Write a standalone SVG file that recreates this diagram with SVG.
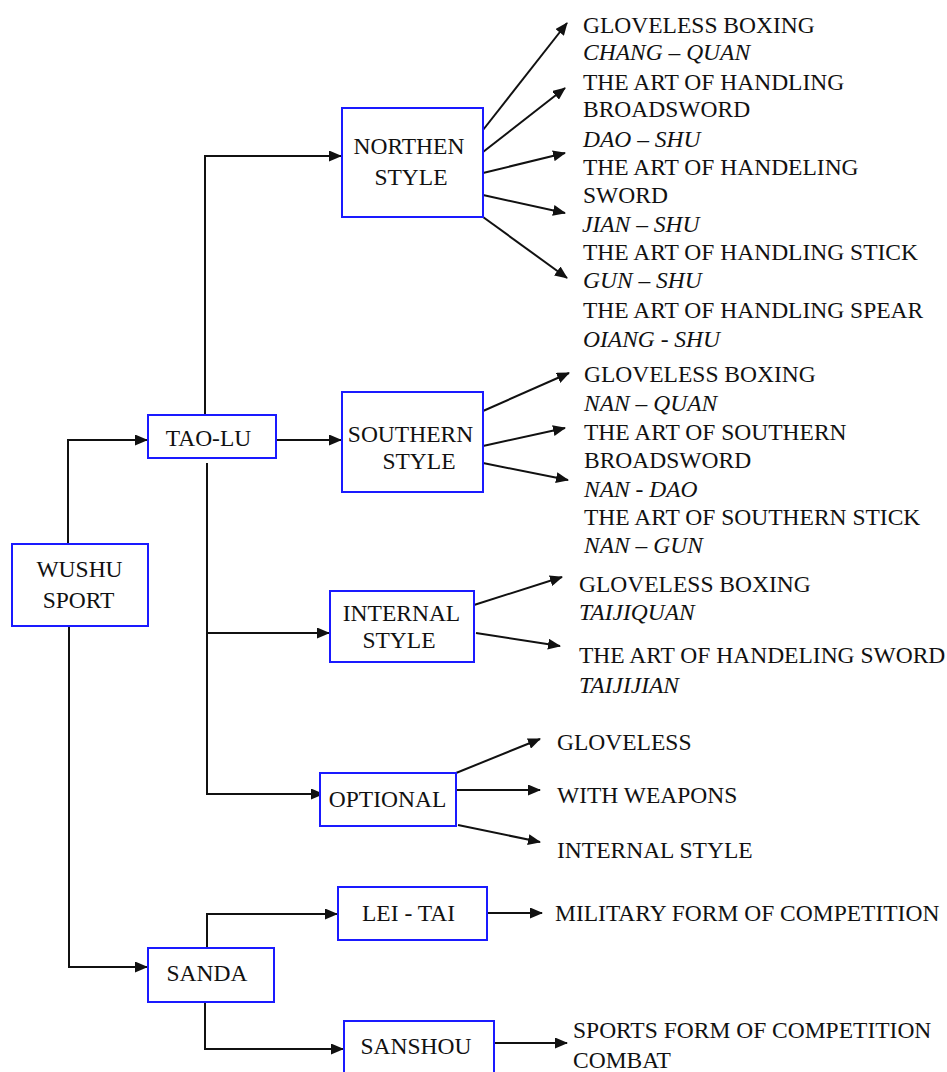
<svg xmlns="http://www.w3.org/2000/svg" width="947" height="1072" viewBox="0 0 947 1072">
<style>
.box{fill:#fff;stroke:#1a1aff;stroke-width:2}
.t{font-family:'Liberation Serif',serif;font-size:23.5px;fill:#111}
.m{text-anchor:middle}
.i{font-style:italic}
.c{fill:none;stroke:#111;stroke-width:2}
</style>
<defs>
<marker id="ah" markerUnits="userSpaceOnUse" markerWidth="13" markerHeight="11" refX="12" refY="5.5" orient="auto">
<path d="M0,0 L13,5.5 L0,11 z" fill="#111"/>
</marker>
</defs>
<rect width="947" height="1072" fill="#fff"/>
<g id="connectors" class="c" marker-end="url(#ah)">
<path d="M68,544 V440 H147"/>
<path d="M69,626 V967 H147"/>
<path d="M205,415 V156 H341"/>
<path d="M276,440 H341"/>
<path d="M207,463 V794 H323"/>
<path d="M207,633 H329"/>
<path d="M207,948 V914 H337"/>
<path d="M205,1002 V1049 H343"/>
<path d="M483,130 L567,23"/>
<path d="M483,152 L565,88"/>
<path d="M483,173 L565,153"/>
<path d="M483,195 L565,213"/>
<path d="M483,217 L567,278"/>
<path d="M483,411 L569,373"/>
<path d="M483,446 L565,428"/>
<path d="M483,463 L568,480"/>
<path d="M474,605 L562,577"/>
<path d="M476,633 L560,646"/>
<path d="M456,773 L540,739"/>
<path d="M456,790 L540,790"/>
<path d="M458,825 L540,842"/>
<path d="M483,913 H542"/>
<path d="M487,1043 H567"/>
</g>
<g id="wushu"><rect class="box" x="12" y="544" width="136" height="82"/>
<text class="t m" x="79.5" y="577">WUSHU</text>
<text class="t m" x="78.5" y="608">SPORT</text></g>
<g id="taolu"><rect class="box" x="148" y="415" width="128" height="43"/>
<text class="t m" x="208.5" y="446">TAO-LU</text></g>
<g id="northen"><rect class="box" x="342" y="108" width="141" height="109"/>
<text class="t m" x="409" y="154">NORTHEN</text>
<text class="t m" x="411" y="185">STYLE</text></g>
<g id="southern"><rect class="box" x="342" y="392" width="141" height="100"/>
<text class="t m" x="410.5" y="442">SOUTHERN</text>
<text class="t m" x="419" y="469">STYLE</text></g>
<g id="internal"><rect class="box" x="330" y="591" width="144" height="71"/>
<text class="t m" x="401.5" y="621">INTERNAL</text>
<text class="t m" x="399" y="648">STYLE</text></g>
<g id="optional"><rect class="box" x="320" y="773" width="136" height="53"/>
<text class="t m" x="387.5" y="807">OPTIONAL</text></g>
<g id="sanda"><rect class="box" x="148" y="948" width="126" height="54"/>
<text class="t m" x="207" y="981">SANDA</text></g>
<g id="leitai"><rect class="box" x="338" y="887" width="149" height="53"/>
<text class="t m" x="408.5" y="921">LEI - TAI</text></g>
<g id="sanshou"><rect class="box" x="344" y="1021" width="150" height="60"/>
<text class="t m" x="416" y="1054">SANSHOU</text></g>
<g id="northen-items">
<text class="t" x="583" y="33">GLOVELESS BOXING</text>
<text class="t i" x="583" y="60">CHANG – QUAN</text>
<text class="t" x="583" y="90">THE ART OF HANDLING</text>
<text class="t" x="583" y="117">BROADSWORD</text>
<text class="t i" x="583" y="147">DAO – SHU</text>
<text class="t" x="583" y="175">THE ART OF HANDELING</text>
<text class="t" x="583" y="203">SWORD</text>
<text class="t i" x="582" y="232">JIAN – SHU</text>
<text class="t" x="583" y="260">THE ART OF HANDLING STICK</text>
<text class="t i" x="583" y="288">GUN – SHU</text>
<text class="t" x="583" y="318">THE ART OF HANDLING SPEAR</text>
<text class="t i" x="583" y="347">OIANG - SHU</text>
</g>
<g id="southern-items">
<text class="t" x="584" y="382">GLOVELESS BOXING</text>
<text class="t i" x="584" y="411">NAN – QUAN</text>
<text class="t" x="584" y="440">THE ART OF SOUTHERN</text>
<text class="t" x="584" y="468">BROADSWORD</text>
<text class="t i" x="584" y="497">NAN - DAO</text>
<text class="t" x="584" y="525">THE ART OF SOUTHERN STICK</text>
<text class="t i" x="584" y="553">NAN – GUN</text>
</g>
<g id="internal-items">
<text class="t" x="579" y="592">GLOVELESS BOXING</text>
<text class="t i" x="579" y="620">TAIJIQUAN</text>
<text class="t" x="579" y="663">THE ART OF HANDELING SWORD</text>
<text class="t i" x="579" y="693">TAIJIJIAN</text>
</g>
<g id="optional-items">
<text class="t" x="557" y="750">GLOVELESS</text>
<text class="t" x="557" y="803">WITH WEAPONS</text>
<text class="t" x="557" y="858">INTERNAL STYLE</text>
</g>
<g id="sanda-items">
<text class="t" x="555" y="921">MILITARY FORM OF COMPETITION</text>
<text class="t" x="573" y="1038">SPORTS FORM OF COMPETITION</text>
<text class="t" x="573" y="1068">COMBAT</text>
</g>
</svg>
